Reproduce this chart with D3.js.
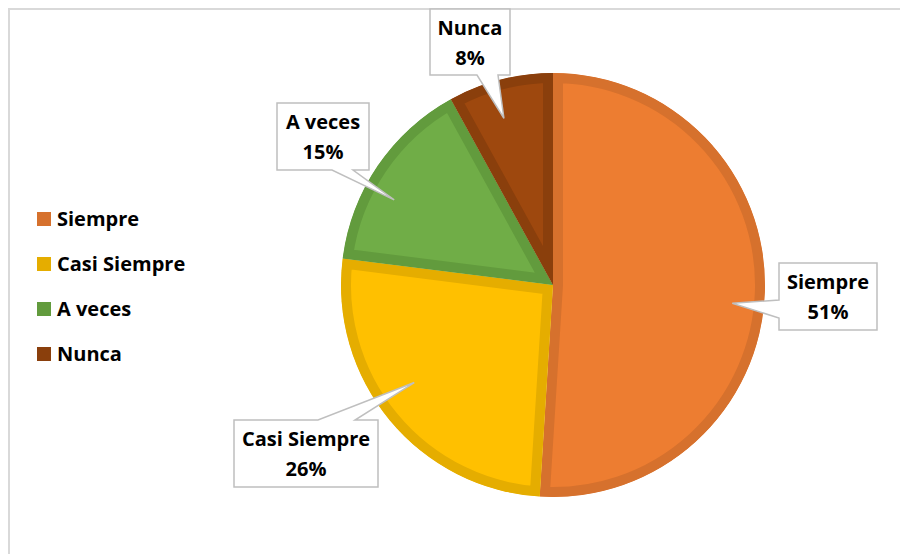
<!DOCTYPE html>
<html>
<head>
<meta charset="utf-8">
<script src="https://cdn.jsdelivr.net/npm/d3@7"></script>
<style>
  html, body { margin: 0; padding: 0; background: #fff; }
  svg { display: block; }
  text { font-family: "Open Sans", sans-serif; font-weight: 700; fill: #000; }
</style>
</head>
<body>
<svg id="chart" width="900" height="554"></svg>
<script>
// ---- data ----
const categories = ["Siempre", "Casi Siempre", "A veces", "Nunca"];
const values = [51, 26, 15, 8];
const percentLabels = ["51%", "26%", "15%", "8%"];
const fillColors = ["#ED7D31", "#FFC000", "#70AD47", "#9E480E"];
const edgeColors = ["#D6712D", "#E5AD00", "#629B3D", "#8A3F0C"];

// ---- layout (not data) ----
const W = 900, H = 554;
const cx = 553, cy = 285, R = 212;
const band = 10;
// callout boxes: [x, y, w, h], pointer side, base positions along that side,
// pointer tip as angle offset (deg) from slice middle and radius fraction
const callouts = [
  { box: [779, 263, 98, 67], side: "left",   b0: 300, b1: 318, da: 4,   rf: 0.85 },
  { box: [234, 420, 144, 67], side: "top",   b0: 318, b1: 355, da: 4.5, rf: 0.80 },
  { box: [277, 103, 92, 67], side: "bottom", b0: 332, b1: 353, da: -6,  rf: 0.85 },
  { box: [430, 9, 80, 66],   side: "bottom", b0: 477, b1: 498, da: -2,  rf: 0.82 }
];

const svg = d3.select("#chart");

// outer chart frame (extends past the picture on the right and bottom)
svg.append("rect")
  .attr("x", 9).attr("y", 9).attr("width", 920).attr("height", 600)
  .attr("fill", "#fff").attr("stroke", "#d9d9d9").attr("stroke-width", 2);

const pie = d3.pie().sort(null).value(d => d)(values);
const arc = d3.arc().innerRadius(0).outerRadius(R);

const defs = svg.append("defs");
const g = svg.append("g").attr("transform", `translate(${cx},${cy})`);

pie.forEach((p, i) => {
  const id = "clip" + i;
  defs.append("clipPath").attr("id", id).append("path").attr("d", arc(p));
  g.append("path")
    .attr("d", arc(p))
    .attr("fill", fillColors[i])
    .attr("stroke", edgeColors[i])
    .attr("stroke-width", band * 2)
    .attr("stroke-linejoin", "miter")
    .attr("clip-path", `url(#${id})`);
});

// callouts
pie.forEach((p, i) => {
  const c = callouts[i];
  const mid = (p.startAngle + p.endAngle) / 2 + c.da * Math.PI / 180;
  const rr = R * c.rf;
  const tx = cx + rr * Math.sin(mid), ty = cy - rr * Math.cos(mid);
  const [x, y, w, h] = c.box;
  let d;
  if (c.side === "left") {
    d = `M${x},${y} H${x + w} V${y + h} H${x} V${c.b1} L${tx},${ty} L${x},${c.b0} Z`;
  } else if (c.side === "top") {
    d = `M${x},${y} H${c.b0} L${tx},${ty} L${c.b1},${y} H${x + w} V${y + h} H${x} Z`;
  } else {
    d = `M${x},${y} H${x + w} V${y + h} H${c.b1} L${tx},${ty} L${c.b0},${y + h} H${x} Z`;
  }
  svg.append("path").attr("d", d)
    .attr("fill", "#fff").attr("stroke", "#bfbfbf").attr("stroke-width", 1.5)
    .attr("stroke-linejoin", "miter");
  const t = svg.append("text").attr("text-anchor", "middle")
    .attr("font-size", 20);
  t.append("tspan").attr("x", x + w / 2).attr("y", y + 26).text(categories[i]);
  t.append("tspan").attr("x", x + w / 2).attr("y", y + 56).text(percentLabels[i]);
});

// legend
const leg = svg.append("g");
const legY = d3.scalePoint().domain(categories).range([219, 354]);
categories.forEach((c, i) => {
  leg.append("rect")
    .attr("x", 37).attr("y", legY(c) - 7).attr("width", 14).attr("height", 14)
    .attr("fill", edgeColors[i]);
  leg.append("text").attr("x", 57).attr("y", legY(c) + 7)
    .attr("font-size", 20).text(c);
});
</script>
</body>
</html>
